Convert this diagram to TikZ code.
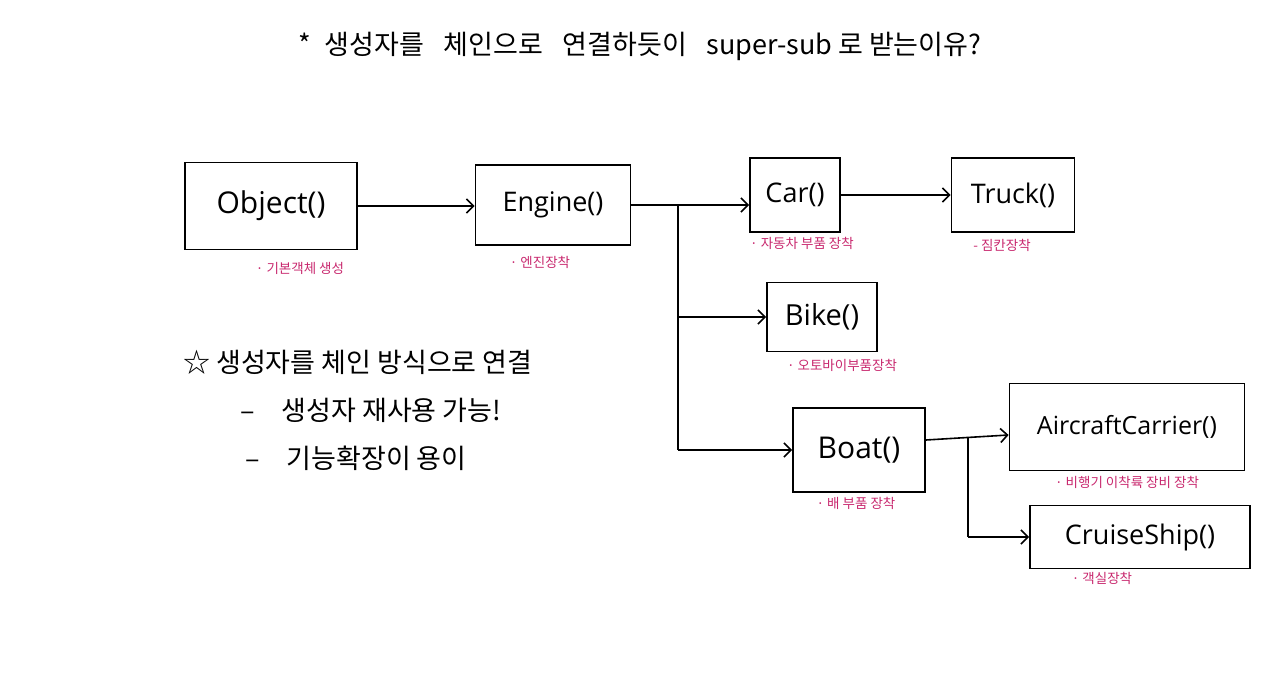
\documentclass[tikz,border=0pt]{standalone}
\usepackage{fontspec}
\setmainfont{Noto Sans CJK KR}
\newfontfamily\boxfont{Open Sans}
\usetikzlibrary{arrows.meta}
\definecolor{pinklab}{HTML}{C8286E}
\tikzset{
  cls/.style={draw=black, line width=1.8pt, minimum width=#1, inner sep=0pt, font=\boxfont\fontsize{27}{30}\selectfont},
  lab/.style={text=pinklab, font=\fontsize{13.5}{16}\selectfont, inner sep=1pt},
  conn/.style={line width=1.6pt, -{Straight Barb[length=7pt,width=14pt,line width=1.6pt]}},
  plain/.style={line width=1.6pt},
  note/.style={anchor=west, font=\fontsize{27}{30}\selectfont, inner sep=0pt}
}
\begin{document}
\begin{tikzpicture}[x=1pt,y=-1pt]
\useasboundingbox (0,0) rectangle (1267,682);
% title
\node[font=\fontsize{27}{30}\selectfont] (title) at (640,46) {*\; 생성자를 \; 체인으로 \; 연결하듯이 \; super-sub 로 받는이유?};
% boxes
\node[cls=172pt, minimum height=87pt, font=\boxfont\fontsize{30}{32}\selectfont] (obj) at (271,206) {Object()};
\node[cls=155pt, minimum height=80pt] (eng) at (553,205) {Engine()};
\node[cls=90pt, minimum height=74pt] (car) at (795,195) {Car()};
\node[cls=123pt, minimum height=74pt] (truck) at (1013,195) {Truck()};
\node[cls=110pt, minimum height=69pt, font=\boxfont\fontsize{29}{32}\selectfont] (bike) at (822,317) {Bike()};
\node[cls=132pt, minimum height=84pt, font=\boxfont\fontsize{30}{32}\selectfont] (boat) at (859,450) {Boat()};
\node[cls=235pt, minimum height=87pt, font=\boxfont\fontsize{25}{28}\selectfont] (air) at (1127,427) {AircraftCarrier()};
\node[cls=220pt, minimum height=63pt] (cruise) at (1140,537) {CruiseShip()};
% labels
\node[lab] (lobj) at (300,268) {· 기본객체 생성};
\node[lab] (leng) at (540,262) {· 엔진장착};
\node[lab] (lcar) at (802,243) {· 자동차 부품 장착};
\node[lab] (ltruck) at (1002,245) {- 짐칸장착};
\node[lab] (lbike) at (842,365) {· 오토바이부품장착};
\node[lab] (lboat) at (856,503) {· 배 부품 장착};
\node[lab] (lair) at (1127,482) {· 비행기 이착륙 장비 장착};
\node[lab] (lcruise) at (1102,578) {· 객실장착};
% notes
\node[note] (n1) at (183,362) {☆ 생성자를 체인 방식으로 연결};
\node[note] (n2) at (240,410) {–\quad 생성자 재사용 가능!};
\node[note] (n3) at (245,458) {–\quad 기능확장이 용이};
% connectors
\coordinate (j1) at (678,205);
\coordinate (j2) at (968,438);
\draw[conn] (obj.east) -- (eng.west |- obj.east);
\draw[conn] (eng.east) -- (eng.east -| car.west);
\draw[plain] (j1) -- (j1 |- boat.west);
\draw[conn] (j1 |- bike.west) -- (bike.west);
\draw[conn] (j1 |- boat.west) -- (boat.west);
\draw[conn] (car.east) -- (car.east -| truck.west);
\draw[conn] ([yshift=10pt]boat.east) -- ([yshift=-8pt]air.west);
\draw[plain] (j2) -- (j2 |- cruise.west);
\draw[conn] (j2 |- cruise.west) -- (cruise.west);
\end{tikzpicture}
\end{document}
